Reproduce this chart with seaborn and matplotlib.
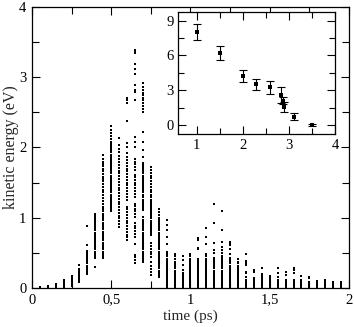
import matplotlib
matplotlib.use("Agg")
import matplotlib.pyplot as plt
from matplotlib.ticker import MultipleLocator, FuncFormatter
import numpy as np
import pandas as pd
import seaborn as sns

# rising part of the pulse: column times and the energies of each column
rise_times = [0.05, 0.10, 0.15, 0.20, 0.25, 0.30, 0.35, 0.40]
rise_energies = [
    [0.0, 0.01, 0.02],
    [0.01, 0.02, 0.03],
    [0.02, 0.03, 0.04, 0.05, 0.06],
    [0.02, 0.04, 0.05, 0.07, 0.08, 0.10, 0.12],
    [0.03, 0.05, 0.07, 0.09, 0.11, 0.13, 0.15, 0.17],
    [0.09, 0.11, 0.13, 0.15, 0.17, 0.19, 0.21, 0.23, 0.25, 0.27, 0.33],
    [0.20, 0.23, 0.26, 0.29, 0.32, 0.35, 0.38, 0.41, 0.44, 0.47, 0.50, 0.53, 0.61, 0.88],
    [0.30, 0.43, 0.46, 0.49, 0.52, 0.55, 0.58, 0.61, 0.64, 0.67, 0.70, 0.73, 0.76, 0.79,
     0.82, 0.85, 0.88, 0.91, 0.94, 0.97, 1.00, 1.03, 1.06],
]

# peak of the pulse
peak_times = [0.45, 0.50, 0.55, 0.60, 0.65, 0.70, 0.75, 0.80]
peak_energies = [
    [0.43, 0.46, 0.49, 0.52, 0.55, 0.58, 0.61, 0.64, 0.68, 0.71, 0.74, 0.77, 0.80, 0.84,
     0.87, 0.90, 0.93, 0.97, 1.00, 1.03, 1.06, 1.10, 1.13, 1.16, 1.20, 1.24, 1.28, 1.32,
     1.36, 1.40, 1.44, 1.48, 1.52, 1.55, 1.58, 1.62, 1.66, 1.70, 1.73, 1.76, 1.80, 1.84, 1.89],
    [1.09, 1.12, 1.15, 1.18, 1.21, 1.24, 1.27, 1.30, 1.33, 1.36, 1.39, 1.42, 1.45, 1.48,
     1.51, 1.54, 1.57, 1.60, 1.63, 1.66, 1.69, 1.72, 1.75, 1.78, 1.81, 1.84, 1.87, 1.90,
     1.93, 1.96, 1.99, 2.02, 2.05, 2.08, 2.12, 2.16, 2.20, 2.25, 2.30],
    [0.87, 0.91, 0.95, 0.99, 1.03, 1.07, 1.11, 1.15, 1.19, 1.23, 1.27, 1.31, 1.35, 1.39,
     1.43, 1.47, 1.51, 1.55, 1.59, 1.63, 1.67, 1.71, 1.75, 1.79, 1.83, 1.88, 1.93, 1.98,
     2.04, 2.13],
    [0.68, 0.72, 0.76, 0.80, 0.84, 0.88, 0.92, 0.96, 1.00, 1.04, 1.08, 1.12, 1.16, 1.26,
     1.30, 1.34, 1.38, 1.42, 1.46, 1.50, 1.54, 1.58, 1.62, 1.66, 1.70, 1.74, 1.78, 1.82,
     1.86, 1.92, 2.00, 2.06, 2.37, 2.63, 2.67, 2.71],
    [0.36, 0.40, 0.44, 0.47, 0.63, 0.73, 0.77, 0.81, 0.85, 0.89, 0.92, 1.01, 1.05, 1.09,
     1.13, 1.17, 1.20, 1.30, 1.34, 1.38, 1.42, 1.46, 1.50, 1.54, 1.58, 1.61, 1.68, 1.72,
     1.77, 1.80, 1.84, 2.01, 2.08, 2.15, 2.67, 2.79, 2.82, 2.89, 3.05, 3.11, 3.19, 3.34,
     3.37, 3.39],
    [0.37, 0.40, 0.43, 0.46, 0.49, 0.52, 0.55, 0.58, 0.61, 0.64, 0.67, 0.70, 0.73, 0.76,
     0.79, 0.82, 0.85, 0.88, 0.91, 0.94, 0.97, 1.01, 1.11, 1.14, 1.17, 1.20, 1.23, 1.26,
     1.30, 1.33, 1.36, 1.39, 1.42, 1.45, 1.48, 1.51, 1.54, 1.57, 1.60, 1.63, 1.66, 1.69,
     1.72, 1.75, 1.78, 1.87, 1.96, 2.08, 2.22, 2.51, 2.55, 2.59, 2.63, 2.67, 2.70, 2.74,
     2.78, 2.82, 2.86, 2.92],
    [0.19, 0.23, 0.27, 0.31, 0.37, 0.44, 0.48, 0.52, 0.56, 0.60, 0.64, 0.75, 0.78, 0.81,
     0.84, 0.87, 0.90, 0.93, 0.96, 0.99, 1.02, 1.05, 1.08, 1.11, 1.14, 1.17, 1.20, 1.23,
     1.26, 1.29, 1.32, 1.36, 1.40, 1.44, 1.48, 1.52, 1.56, 1.60, 1.64, 1.68, 1.72],
    [0.16, 0.19, 0.22, 0.25, 0.28, 0.31, 0.34, 0.37, 0.40, 0.43, 0.46, 0.49, 0.52, 0.55,
     0.58, 0.61, 0.64, 0.67, 0.70, 0.73, 0.76, 0.79, 0.82, 0.85, 0.88, 0.91, 0.94, 0.97,
     1.00, 1.04, 1.08, 1.12],
]

# tail after the pulse
tail_times = [0.85, 0.90, 0.95, 1.00, 1.05, 1.10, 1.15, 1.20, 1.25, 1.30, 1.35, 1.40,
              1.45, 1.50, 1.55, 1.60, 1.65, 1.70, 1.75, 1.80, 1.85, 1.90, 1.95]
tail_energies = [
    [0.0, 0.02, 0.04, 0.06, 0.08, 0.10, 0.12, 0.14, 0.16, 0.18, 0.20, 0.22, 0.24, 0.26,
     0.28, 0.30, 0.33, 0.36, 0.39, 0.42, 0.45, 0.48, 0.52, 0.62, 0.73, 0.83, 0.90, 0.97],
    [0.0, 0.02, 0.04, 0.06, 0.08, 0.10, 0.12, 0.14, 0.16, 0.18, 0.20, 0.22, 0.25, 0.28,
     0.31, 0.34, 0.37, 0.41, 0.45, 0.49],
    [0.0, 0.02, 0.04, 0.06, 0.08, 0.10, 0.12, 0.14, 0.16, 0.18, 0.21, 0.26, 0.33, 0.40, 0.46],
    [0.0, 0.02, 0.04, 0.06, 0.08, 0.10, 0.12, 0.14, 0.16, 0.18, 0.20, 0.22, 0.24, 0.27,
     0.30, 0.33, 0.36, 0.39, 0.42, 0.45, 0.48],
    [0.0, 0.02, 0.04, 0.06, 0.08, 0.10, 0.12, 0.14, 0.16, 0.18, 0.20, 0.22, 0.24, 0.27,
     0.30, 0.33, 0.36, 0.39, 0.41, 0.55, 0.57, 0.69, 0.71],
    [0.0, 0.02, 0.04, 0.06, 0.08, 0.10, 0.12, 0.14, 0.16, 0.18, 0.20, 0.22, 0.24, 0.26,
     0.28, 0.30, 0.33, 0.36, 0.39, 0.42, 0.45, 0.48, 0.63, 0.73, 0.85],
    [0.0, 0.02, 0.04, 0.06, 0.08, 0.10, 0.12, 0.14, 0.16, 0.18, 0.20, 0.22, 0.25, 0.28,
     0.31, 0.34, 0.37, 0.40, 0.43, 0.50, 0.54, 0.64, 0.92, 1.20],
    [0.0, 0.02, 0.04, 0.06, 0.08, 0.10, 0.12, 0.14, 0.16, 0.18, 0.20, 0.22, 0.25, 0.28,
     0.31, 0.34, 0.37, 0.40, 0.43, 0.46, 0.50, 0.54, 0.59, 0.66, 0.82, 1.10],
    [0.0, 0.02, 0.04, 0.06, 0.08, 0.10, 0.12, 0.14, 0.16, 0.18, 0.20, 0.23, 0.26, 0.29,
     0.32, 0.35, 0.38, 0.41, 0.43, 0.49, 0.55, 0.61, 0.64, 0.66],
    [0.0, 0.02, 0.04, 0.06, 0.08, 0.10, 0.12, 0.14, 0.16, 0.18, 0.20, 0.23, 0.26, 0.29,
     0.32, 0.35, 0.37, 0.42],
    [0.0, 0.02, 0.04, 0.06, 0.08, 0.10, 0.12, 0.16, 0.21, 0.23, 0.33, 0.35, 0.38, 0.48],
    [0.0, 0.02, 0.04, 0.06, 0.08, 0.10, 0.12, 0.14, 0.23, 0.26],
    [0.0, 0.02, 0.04, 0.06, 0.08, 0.10, 0.12, 0.14, 0.16, 0.18, 0.20, 0.28],
    [0.0, 0.02, 0.04, 0.06, 0.08, 0.10, 0.12, 0.15, 0.17],
    [0.0, 0.02, 0.04, 0.06, 0.08, 0.11, 0.16, 0.22, 0.28],
    [0.0, 0.02, 0.04, 0.06, 0.08, 0.11, 0.18, 0.23],
    [0.0, 0.02, 0.04, 0.06, 0.08, 0.11, 0.21, 0.26, 0.29],
    [0.0, 0.02, 0.04, 0.06, 0.08, 0.11, 0.17],
    [0.0, 0.02, 0.04, 0.06, 0.09, 0.14, 0.16],
    [0.0, 0.02, 0.04, 0.06, 0.08, 0.10],
    [0.0, 0.02, 0.04, 0.06, 0.09, 0.12],
    [0.0, 0.02, 0.04, 0.06, 0.09],
    [0.0, 0.02, 0.04, 0.06, 0.08],
]

# inset: mean energy with error bars
inset_x = [1.0, 1.5, 2.0, 2.3, 2.6, 2.83, 2.87, 2.90, 3.12, 3.5]
inset_y = [8.0, 6.19, 4.23, 3.51, 3.25, 2.59, 2.10, 1.58, 0.72, 0.0]
inset_err = [0.7, 0.6, 0.5, 0.5, 0.53, 0.7, 0.3, 0.45, 0.3, 0.08]


def to_frame(times, energies):
    rows = []
    for t, col in zip(times, energies):
        for e in col:
            rows.append((t, e))
    return pd.DataFrame(rows, columns=["time", "energy"])


df = pd.concat([to_frame(rise_times, rise_energies),
                to_frame(peak_times, peak_energies),
                to_frame(tail_times, tail_energies)], ignore_index=True)
inset_df = pd.DataFrame({"x": inset_x, "y": inset_y, "err": inset_err})

sns.set_style("ticks")
plt.rcParams["font.family"] = ["Liberation Serif", "DejaVu Serif"]
plt.rcParams["font.size"] = 10

comma = FuncFormatter(lambda v, pos: f"{v:g}".replace(".", ","))

fig = plt.figure(figsize=(3.54, 3.27), dpi=100)
ax = fig.add_axes([0.090, 0.119, 0.896, 0.860])

sns.scatterplot(data=df, x="time", y="energy", ax=ax, color="black", marker="s",
                s=0.9, linewidth=0, legend=False)
ax.set_xlim(0, 2)
ax.set_ylim(0, 4)
ax.xaxis.set_major_locator(MultipleLocator(0.5))
ax.xaxis.set_minor_locator(MultipleLocator(0.25))
ax.yaxis.set_major_locator(MultipleLocator(1))
ax.yaxis.set_minor_locator(MultipleLocator(0.5))
ax.xaxis.set_major_formatter(comma)
ax.tick_params(which="both", direction="in", top=True, right=True, labelsize=10.5,
               colors="black", width=0.8)
ax.tick_params(which="major", length=6, pad=4)
ax.tick_params(which="minor", length=5)
ax.set_xlabel("time (ps)", fontsize=11, labelpad=2)
ax.set_ylabel("kinetic energy (eV)", fontsize=11.5, labelpad=0)
for sp in ax.spines.values():
    sp.set_linewidth(0.9)
    sp.set_color("black")

# inset
axi = fig.add_axes([0.503, 0.589, 0.443, 0.373])
axi.errorbar(inset_df["x"], inset_df["y"], yerr=inset_df["err"], fmt="none",
             ecolor="black", elinewidth=0.8, capsize=3.2, capthick=0.8)
sns.scatterplot(data=inset_df, x="x", y="y", ax=axi, color="black", marker="s",
                s=10, linewidth=0, legend=False, zorder=3)
axi.set_xlim(0.6, 4.0)
axi.set_ylim(-0.8, 9.7)
axi.xaxis.set_major_locator(MultipleLocator(1))
axi.xaxis.set_minor_locator(MultipleLocator(0.5))
axi.yaxis.set_major_locator(MultipleLocator(3))
axi.yaxis.set_minor_locator(MultipleLocator(1.5))
axi.tick_params(which="both", direction="in", top=True, right=True, labelsize=10.5,
                colors="black", width=0.8)
axi.tick_params(which="major", length=6, pad=3)
axi.tick_params(which="minor", length=4)
axi.set_xlabel("")
axi.set_ylabel("")
for sp in axi.spines.values():
    sp.set_linewidth(0.9)
    sp.set_color("black")

fig.savefig("out.png", dpi=100)
